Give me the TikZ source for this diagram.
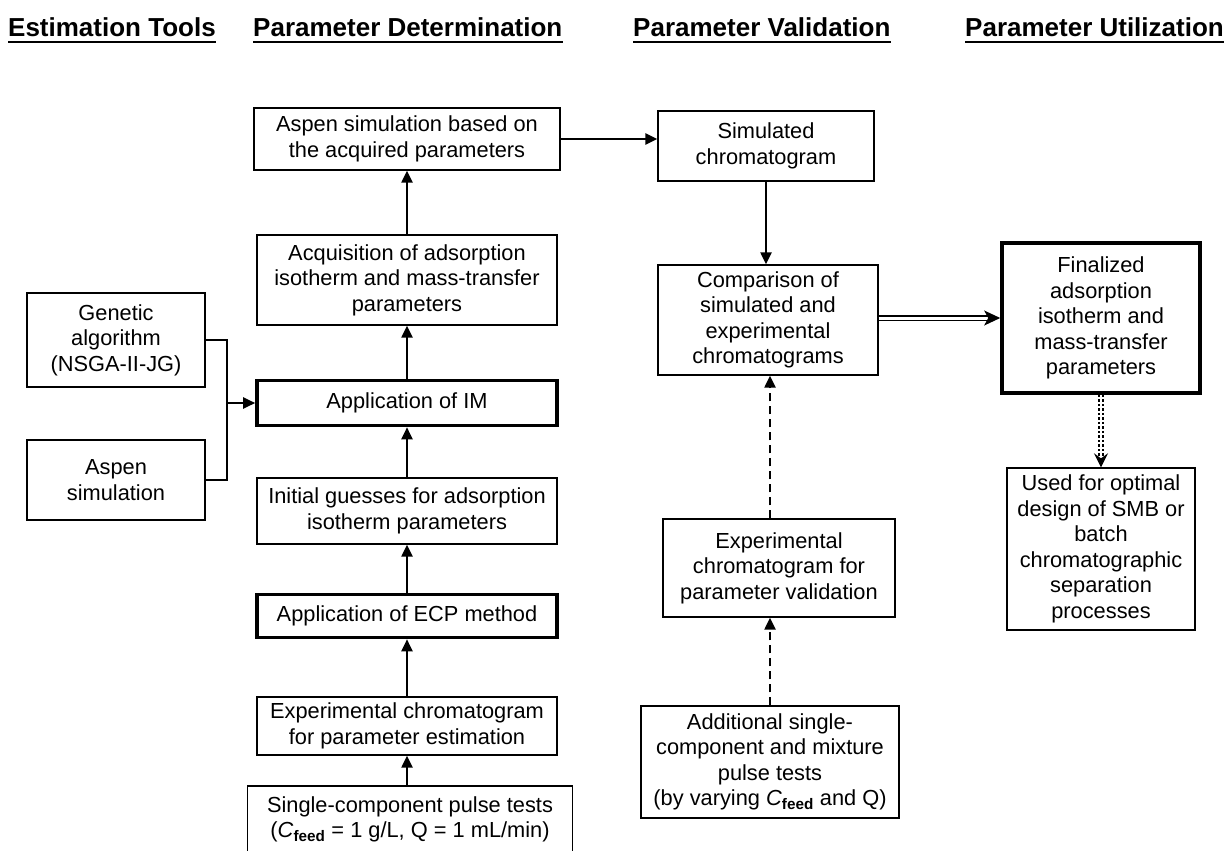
\documentclass[tikz,border=0pt]{standalone}
\usepackage{fontspec}
\setmainfont{Liberation Sans}
\usetikzlibrary{arrows.meta, positioning, calc}
\tikzset{
  chbox/.style={rectangle, draw=black, line width=1.3pt, fill=white,
    align=center, inner sep=2pt, font=\fontsize{21.8}{25.5}\selectfont},
  chboxThick/.style={chbox, line width=3.6pt},
  chhead/.style={anchor=base west, inner sep=0pt,
    font=\fontsize{26}{30}\selectfont\bfseries},
  chrule/.style={line width=2pt},
  chline/.style={line width=2.2pt},
  charrow/.style={-{Triangle[length=12pt, width=11pt]}, line width=2.2pt},
  chdash/.style={charrow, dash pattern=on 8pt off 5pt},
  chdouble/.style={-{Stealth[length=16pt, width=15pt, inset=4pt]}, double,
    double distance=3pt, line width=1.2pt},
  chdotted/.style={-{Stealth[length=14pt, width=14pt, inset=5pt]}, double,
    double distance=1.5pt, line width=2.2pt, dash pattern=on 2.5pt off 2pt}
}
\newcommand{\cfeed}{\textit{C}\textsubscript{\bfseries feed}}
\begin{document}
\begin{tikzpicture}[x=1pt, y=-1pt]
  \useasboundingbox (0,0) rectangle (1226,851);

  \node[chhead] (hdTools) at (8,37) {Estimation Tools};
  \node[chhead] (hdDet) at (253,37) {Parameter Determination};
  \node[chhead] (hdVal) at (633,37) {Parameter Validation};
  \node[chhead] (hdUse) at (965,37) {Parameter Utilization};
  \foreach \h in {hdTools, hdDet, hdVal, hdUse}
    \draw[chrule] ([yshift=-5pt]\h.base west) -- ([yshift=-5pt]\h.base east);

  \node[chbox, minimum width=178pt, minimum height=94pt] (ga) at (116,340)
    {Genetic\\algorithm\\(NSGA-II-JG)};
  \node[chbox, minimum width=178pt, minimum height=80pt] (aspenTool) at (116,480)
    {Aspen\\simulation};

  \node[chbox, minimum width=306pt, minimum height=62pt] (aspenSim) at (407,139)
    {Aspen simulation based on\\the acquired parameters};
  \node[chbox, minimum width=300pt, minimum height=90pt] (acq) at (407,280)
    {Acquisition of adsorption\\isotherm and mass-transfer\\parameters};
  \node[chboxThick, minimum width=300pt, minimum height=45pt] (im) at (407,403)
    {Application of IM};
  \node[chbox, minimum width=300pt, minimum height=66pt] (init) at (407,511)
    {Initial guesses for adsorption\\isotherm parameters};
  \node[chboxThick, minimum width=300pt, minimum height=43pt] (ecp) at (407,616)
    {Application of ECP method};
  \node[chbox, minimum width=300pt, minimum height=58pt] (expEst) at (407,726)
    {Experimental chromatogram\\for parameter estimation};
  \node[chbox, minimum width=325pt, minimum height=88pt, text depth=26pt] (single) at (410,830)
    {Single-component pulse tests\\(\cfeed{} = 1 g/L, Q = 1 mL/min)};

  \node[chbox, minimum width=216pt, minimum height=70pt] (simChrom) at (766,146)
    {Simulated\\chromatogram};
  \node[chbox, minimum width=220pt, minimum height=110pt] (comp) at (768,320)
    {Comparison of\\simulated and\\experimental\\chromatograms};
  \node[chbox, minimum width=232pt, minimum height=98pt] (expVal) at (779,568)
    {Experimental\\chromatogram for\\parameter validation};
  \node[chbox, minimum width=258pt, minimum height=112pt] (addTests) at (770,762)
    {Additional single-\\component and mixture\\pulse tests\\(by varying \cfeed{} and Q)};

  \node[chboxThick, minimum width=198pt, minimum height=150pt] (final) at (1101,318)
    {Finalized\\adsorption\\isotherm and\\mass-transfer\\parameters};
  \node[chbox, minimum width=188pt, minimum height=162pt] (used) at (1101,549)
    {Used for optimal\\design of SMB or\\batch\\chromatographic\\separation\\processes};

  \coordinate (jn) at (227,403);
  \draw[chline] (ga.east) -| (jn) |- (aspenTool.east);
  \draw[charrow] (jn) -- (im.west);

  \foreach \a/\b in {expEst/ecp, ecp/init, init/im, im/acq, acq/aspenSim}
    \draw[charrow] (\a) -- (\b);
  \draw[charrow] (single.north -| expEst.south) -- (expEst.south);

  \draw[charrow] (aspenSim.east) -- (aspenSim.east -| simChrom.west);
  \draw[charrow] (simChrom.south) -- (simChrom.south |- comp.north);
  \draw[chdash] (addTests.north) -- (addTests.north |- expVal.south);
  \draw[chdash] (addTests.north |- expVal.north) -- (addTests.north |- comp.south);
  \draw[chdouble] (final.west -| comp.east) -- (final.west);
  \draw[chdotted] (final.south) -- (used.north);
\end{tikzpicture}
\end{document}
